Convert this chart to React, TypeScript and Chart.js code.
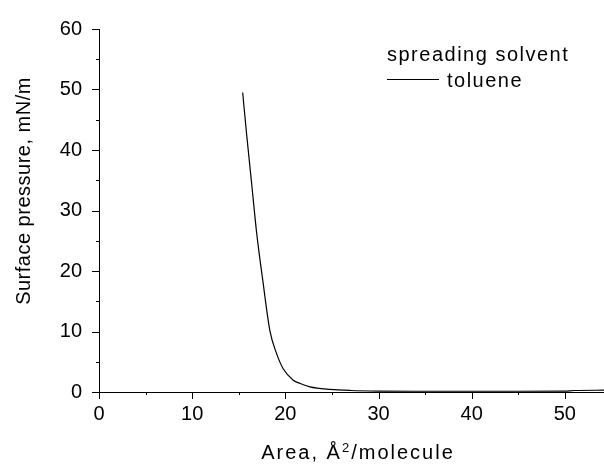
import React, { useEffect, useRef } from "react";
import { Chart, registerables } from "chart.js";

Chart.register(...registerables);

// ---- data ----
const areaValues = [15.42, 15.85, 16.38, 16.92, 17.6, 18.35, 19.07, 19.77, 20.85, 21.6, 22.64, 24.79, 27, 30, 35, 40, 45, 50, 51, 54.2];
const pressureValues = [49.5, 42.5, 34.5, 26.3, 18.2, 10.05, 6.3, 3.85, 1.95, 1.4, 0.86, 0.44, 0.25, 0.15, 0.12, 0.12, 0.12, 0.15, 0.25, 0.3];
const xMajorTicks = [0, 10, 20, 30, 40, 50];
const yMajorTicks = [0, 10, 20, 30, 40, 50, 60];
const minorStep = 5;
const xMin = 0;
const xMax = 54.2;
const yMin = 0;
const yMax = 60;
const seriesName = "toluene";
const legendHeading = "spreading solvent";
const xTitleMain = "Area, Å";
const xTitleSup = "2";
const xTitleTail = "/molecule";
const yTitle = "Surface pressure, mN/m";

const FONT = '"Liberation Sans", Arial, sans-serif';

const decorPlugin = {
  id: "decor",
  afterDraw(chart: any) {
    const { ctx, chartArea, scales } = chart;
    const xs = scales.x;
    const ys = scales.y;
    ctx.save();
    ctx.strokeStyle = "#000";
    ctx.lineWidth = 1;
    // x tick marks (major + minor)
    for (let v = xMin; v <= xMax + 1e-9; v += minorStep) {
      const px = Math.round(xs.getPixelForValue(v)) + 0.5;
      const len = v % 10 === 0 ? 7 : 3;
      ctx.beginPath();
      ctx.moveTo(px, chartArea.bottom);
      ctx.lineTo(px, chartArea.bottom + len);
      ctx.stroke();
    }
    // y tick marks
    for (let v = yMin; v <= yMax + 1e-9; v += minorStep) {
      const py = Math.round(ys.getPixelForValue(v)) + 0.5;
      const len = v % 10 === 0 ? 7 : 3;
      ctx.beginPath();
      ctx.moveTo(chartArea.left, py);
      ctx.lineTo(chartArea.left - len, py);
      ctx.stroke();
    }

    ctx.fillStyle = "#000";
    ctx.textBaseline = "alphabetic";

    // legend
    ctx.font = `20px ${FONT}`;
    (ctx as any).letterSpacing = "1.5px";
    ctx.textAlign = "left";
    ctx.fillText(legendHeading, 387, 61);
    ctx.beginPath();
    ctx.moveTo(387, 79.5);
    ctx.lineTo(439, 79.5);
    ctx.stroke();
    ctx.fillText(seriesName, 447, 87);

    // x title with superscript
    (ctx as any).letterSpacing = "2px";
    ctx.font = `20px ${FONT}`;
    const w1 = ctx.measureText(xTitleMain).width;
    const w3 = ctx.measureText(xTitleTail).width;
    ctx.font = `13px ${FONT}`;
    const w2 = ctx.measureText(xTitleSup).width;
    const total = w1 + w2 + w3;
    let sx = 358 - total / 2;
    ctx.font = `20px ${FONT}`;
    ctx.fillText(xTitleMain, sx, 459);
    sx += w1;
    ctx.font = `13px ${FONT}`;
    ctx.fillText(xTitleSup, sx, 452);
    sx += w2;
    ctx.font = `20px ${FONT}`;
    ctx.fillText(xTitleTail, sx, 459);

    // y title
    (ctx as any).letterSpacing = "0.5px";
    ctx.translate(29.5, 191);
    ctx.rotate(-Math.PI / 2);
    ctx.textAlign = "center";
    ctx.fillText(yTitle, 0, 0);
    ctx.restore();
  },
};

export default function App() {
  const canvasRef = useRef<HTMLCanvasElement | null>(null);

  useEffect(() => {
    if (!canvasRef.current) return;
    const chart = new Chart(canvasRef.current, {
      type: "line",
      data: {
        datasets: [
          {
            label: seriesName,
            data: areaValues.map((x, i) => ({ x, y: pressureValues[i] })),
            borderColor: "#000",
            backgroundColor: "#000",
            borderWidth: 1.2,
            pointRadius: 0,
            fill: false,
            tension: 0.4,
            cubicInterpolationMode: "monotone",
          },
        ],
      },
      options: {
        responsive: false,
        animation: false,
        devicePixelRatio: 1,
        layout: { padding: { top: 22, left: 0, right: 0, bottom: 0 } },
        plugins: {
          legend: { display: false },
          tooltip: { enabled: false },
        },
        scales: {
          x: {
            type: "linear",
            min: xMin,
            max: xMax,
            afterBuildTicks: (s: any) => {
              s.ticks = xMajorTicks.map((v) => ({ value: v }));
            },
            afterFit: (s: any) => {
              s.height = 72;
            },
            ticks: {
              font: { family: FONT, size: 20 },
              color: "#000",
              padding: 10,
              maxRotation: 0,
              autoSkip: false,
            },
            grid: { display: false, drawTicks: false },
            border: { display: true, color: "#000", width: 1 },
          },
          y: {
            type: "linear",
            min: yMin,
            max: yMax,
            afterBuildTicks: (s: any) => {
              s.ticks = yMajorTicks.map((v) => ({ value: v }));
            },
            afterFit: (s: any) => {
              s.width = 99;
            },
            ticks: {
              font: { family: FONT, size: 20 },
              color: "#000",
              padding: 17,
              autoSkip: false,
            },
            grid: { display: false, drawTicks: false },
            border: { display: true, color: "#000", width: 1 },
          },
        },
      },
      plugins: [decorPlugin],
    } as any);
    return () => chart.destroy();
  }, []);

  return (
    <div style={{ position: "absolute", left: 0, top: 0, width: 604, height: 464, background: "#fff" }}>
      <canvas ref={canvasRef} width={604} height={464} style={{ display: "block" }} />
    </div>
  );
}
